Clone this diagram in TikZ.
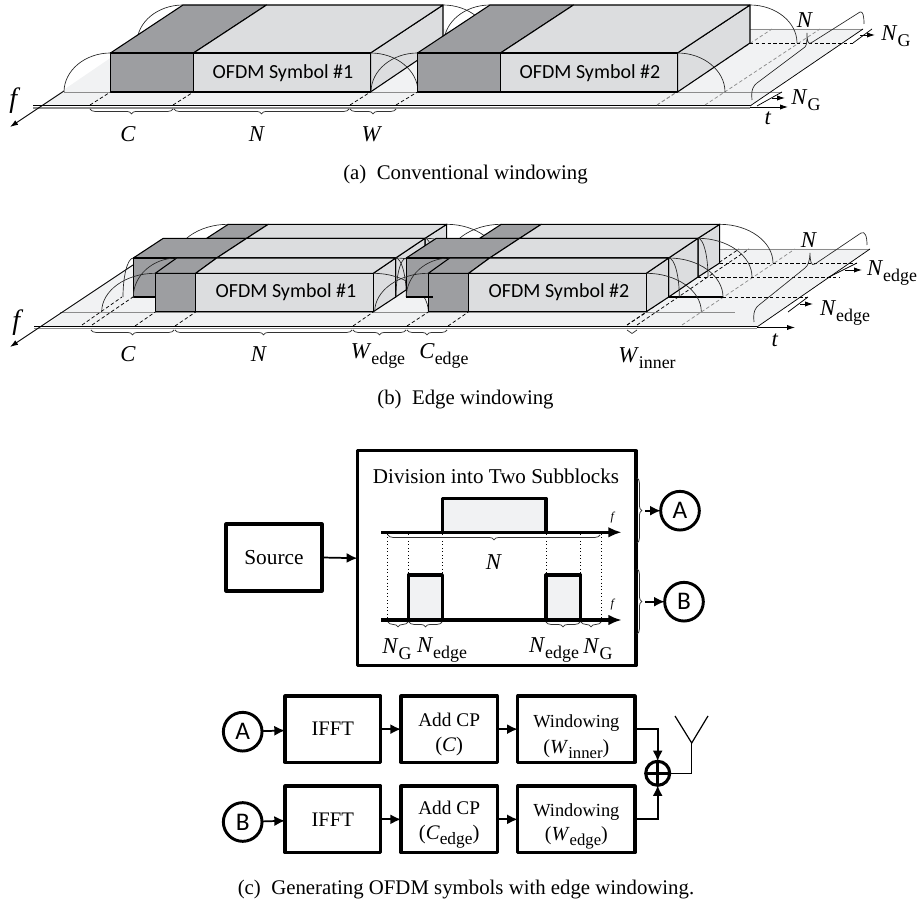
\documentclass[tikz,border=0pt]{standalone}
\usepackage{fontspec}
\setmainfont{Liberation Serif}
\newfontfamily\cali{Carlito}
\usetikzlibrary{arrows.meta,decorations.pathreplacing,calc}
\definecolor{plane}{HTML}{F1F2F3}
\definecolor{lightf}{HTML}{DCDDDF}
\definecolor{darkf}{HTML}{9D9EA1}
\definecolor{gline}{HTML}{8C8C8C}
\newcommand\fs[1]{\fontsize{#1}{#1}\selectfont}
\newcommand\mI[1]{{\fs{17}\textit{#1}}}
\newcommand\mS[2]{{\fs{17}\textit{#1}\raisebox{-0.28em}{\fs{13.4}#2}}}
\newcommand\qarc[4]{(#1,#2) .. controls ({#1+0.55*(#3-(#1))},#2) and (#3,{#4-0.55*(#4-(#2))}) .. (#3,#4)}
\newcommand\bx[6]{\pgfmathsetmacro\bw{(#4-#2)*0.75}\pgfmathsetmacro\bh{(#5-#3)*0.75}%
  \node[pbox,minimum width=\bw pt,minimum height=\bh pt] (#1) at ({(#2+#4)/2},{(#3+#5)/2}) {#6};}
\tikzset{
  x=0.75pt,y=-0.75pt,
  face/.style={draw=black,line width=0.8pt,line join=round},
  thinl/.style={draw=black,line width=0.55pt},
  arcl/.style={draw=black!85,line width=0.5pt},
  dsh/.style={draw=black,line width=0.55pt,dash pattern=on 2.6pt off 1.8pt},
  gdsh/.style={draw=gline,line width=0.55pt,dash pattern=on 2.6pt off 1.8pt},
  brc/.style={draw=black!80,line width=0.55pt,decorate,decoration={brace,amplitude=3.6pt}},
  brcm/.style={brc,decoration={brace,mirror,amplitude=3.6pt}},
  lab/.style={inner sep=0pt,outer sep=0pt},
  captxt/.style={inner sep=0pt,font=\fs{15.6}},
  symtxt/.style={inner sep=0pt,font=\cali\fs{15}},
  pbox/.style={draw=black,line width=2.3pt,fill=white,inner sep=0pt,outer sep=0pt,align=center,line join=round},
  cnode/.style={circle,draw=black,line width=2.2pt,fill=white,inner sep=0pt,minimum size=29pt,font=\cali\fs{19},outer sep=0pt},
  arr/.style={draw=black,line width=1.3pt,-{Latex[length=8pt,width=7.5pt]}},
  axisl/.style={draw=black,line width=0.7pt,-{Latex[length=6pt,width=4pt]}},
  spike/.style={draw=black,line width=2.4pt,-{Latex[length=10pt,width=8pt]}},
  pulse/.style={draw=black,line width=2.4pt,fill=plane,line join=round},
  dotl/.style={draw=black,line width=0.6pt,dotted}
}
\begin{document}
\begin{tikzpicture}
\useasboundingbox (0,0) rectangle (922,905);
% ---------- panel (a)
\fill[plane] (40,106) -- (153,29) -- (863,29) -- (750,106) -- cycle;
\draw[gline,line width=0.6pt] (64,92) -- (782,92);
\draw[gline,line width=0.6pt] (750,29) -- (863,29);
\draw[thinl] (750,106) -- (863,29);
\draw[gline,line width=1.2pt] (33,108) -- (750,108);
\draw[black,line width=0.7pt] (33,105.7) -- (750,105.7);
\draw[axisl] (64,91) -- (10,127);
\draw[axisl] (750,107) -- (788,107);
\foreach \xa/\xb in {90/110.5,173/193.5,350/370.5,396/417.5}
  \draw[dsh] (\xa,105) -- (\xb,92);
\draw[gdsh] (657,105) -- (677,92);
\draw[gdsh] (657,105) -- (772,29);
\draw[gdsh] (705,105) -- (820,29);
\draw[dsh] (750,43) -- (853,43);
\foreach \s/\c in {0/1,307/2}{
 \begin{scope}[shift={(\s,0)}]
  \draw[arcl] \qarc{183}{5}{137}{43};
  \draw[face,fill=lightf] (370.5,53) -- (443,5) -- (443,43) -- (370.5,92) -- cycle;
  \draw[face,fill=darkf] (110.5,53) -- (183,5) -- (266.5,5) -- (193.5,53) -- cycle;
  \draw[face,fill=lightf] (193.5,53) -- (266.5,5) -- (443,5) -- (370.5,53) -- cycle;
  \draw[face,fill=darkf] (110.5,53) rectangle (193.5,92);
  \draw[face,fill=lightf] (193.5,53) rectangle (370.5,92);
  \node[symtxt] (syma\c) at (283,73) {OFDM Symbol \#\c};
  \draw[arcl] \qarc{110.5}{53}{64}{92};
  \draw[arcl] \qarc{370.5}{53}{418}{92};
  \draw[arcl] \qarc{443}{5}{490}{43};
 \end{scope}
}
\draw[decorate,brcm] (90,109) -- (173,109);
\draw[decorate,brcm] (174,109) -- (349,109);
\draw[decorate,brcm] (350,109) -- (396,109);
\node[lab] (fa) at (15,101) {\fs{21}\textit{f}};
\node[lab] (ca) at (128,134) {\mI{C}};
\node[lab] (na) at (257,134) {\mI{N}};
\node[lab] (wa) at (372,134) {\mI{W}};
\node[lab] (ta) at (768,118) {\mI{t}};
\node[lab] (nb) at (805,20) {\mI{N}};
\node[lab] (ga) at (896,36) {\mS{N}{G}};
\node[lab] (gb) at (806,100) {\mS{N}{G}};
\draw[thinl] (853,43) -- (872,29);
\draw[axisl] (860,35) -- (875,35);
\draw[thinl] (757,106) -- (782,92);
\draw[axisl] (772,98) -- (785,98);
\draw[arcl] (752,100) .. controls (751,90) and (753,86) .. (757,83) -- (805,47) .. controls (807,45) and (807,40) .. (807,33) .. controls (807,40) and (808,45) .. (811,43) -- (860,12) .. controls (863,11) and (864,16) .. (864,24);
\node[captxt] (capa) at (465.5,175) {(a)\enspace Conventional windowing};
% ---------- panel (b)
\fill[plane] (43,327) -- (155,249) -- (870,249) -- (757,327) -- cycle;
\draw[gline,line width=0.6pt] (60,312) -- (735,312);
\draw[gline,line width=0.7pt] (720,249) -- (870,249);
\draw[thinl] (757,327) -- (870,249);
\draw[gline,line width=1.2pt] (34,328.5) -- (757,328.5);
\draw[black,line width=0.7pt] (34,326.3) -- (757,326.3);
\draw[axisl] (133,265) -- (10,347);
\draw[axisl] (757,327.5) -- (795,327.5);
\foreach \xa/\xb/\ya/\yb in {82/122/325/297,92/133/325/297,135/155.3/326/312,175/195.7/326/312,353/373.3/326/312,407/428.3/326/312,448/468.3/326/312,627/647/325/312}
  \draw[dsh] (\xa,\ya) -- (\xb,\yb);
\draw[dsh] (627,325) -- (739,249);
\draw[dsh] (637,325) -- (749,249);
\draw[gdsh] (682,325) -- (795,249);
\draw[dsh] (720,263) -- (857,263);
\draw[dsh] (698,277) -- (840,277);
\draw[dsh] (723,297) -- (808,297);
\draw[face] (668,297) -- (723,297);
\foreach \s/\c in {0/1,273/2}{
 \begin{scope}[shift={(\s,0)}]
  \draw[arcl] \qarc{228.3}{224.3}{174}{263};
  \draw[arcl] \qarc{446.7}{224.3}{500}{263};
  % back edge block
  \draw[face,fill=lightf] (425,238.3) -- (446.7,224.3) -- (446.7,263) -- (425,277) -- cycle;
  \draw[face,fill=darkf] (206.7,238.3) -- (228.3,224.3) -- (268.3,224.3) -- (246.7,238.3) -- cycle;
  \draw[face,fill=lightf] (246.7,238.3) -- (268.3,224.3) -- (446.7,224.3) -- (425,238.3) -- cycle;
  % inner block
  \draw[face,fill=lightf] (395.7,258) -- (425,238.3) -- (425,277) -- (395.7,297) -- cycle;
  \draw[face,fill=darkf] (133.3,258) -- (163.3,238.3) -- (246.7,238.3) -- (216.7,258) -- cycle;
  \draw[face,fill=lightf] (216.7,258) -- (246.7,238.3) -- (425,238.3) -- (395.7,258) -- cycle;
  \draw[face,fill=darkf] (133.3,258) rectangle (216.7,297);
  \draw[face,fill=lightf] (216.7,258) rectangle (395.7,297);
  % front edge block
  \draw[face,fill=lightf] (373.3,273.3) -- (395.7,258) -- (395.7,297) -- (373.3,311.7) -- cycle;
  \draw[face,fill=darkf] (155.3,273.3) -- (176.7,258) -- (216.7,258) -- (195.7,273.3) -- cycle;
  \draw[face,fill=lightf] (195.7,273.3) -- (216.7,258) -- (395.7,258) -- (373.3,273.3) -- cycle;
  \draw[face,fill=darkf] (155.3,273.3) rectangle (195.7,311.7);
  \draw[face,fill=lightf] (195.7,273.3) rectangle (373.3,311.7);
  \node[symtxt] (symb\c) at (286,292) {OFDM Symbol \#\c};
  % window arcs
  \draw[arcl] \qarc{155.3}{273.3}{101.7}{311.7};
  \draw[arcl] \qarc{133.3}{258}{123}{297};
  \draw[arcl] \qarc{176.7}{258}{133.3}{297};
  \draw[arcl] \qarc{373.3}{273.3}{428.3}{311.7};
  \draw[arcl] \qarc{395.7}{258}{406.3}{297};
  \draw[arcl] \qarc{395.7}{258}{450}{297};
  \draw[arcl] \qarc{425}{238.3}{435}{277};
  \draw[arcl] \qarc{425}{238.3}{479}{277};
 \end{scope}
}
\draw[face] (406.3,297) -- (433,297);
\draw[decorate,brcm] (91,330) -- (174,330);
\draw[decorate,brcm] (175,330) -- (352,330);
\draw[decorate,brcm] (353,330) -- (406,330);
\draw[decorate,brcm] (407,330) -- (447,330);
\draw[decorate,brcm,decoration={brace,mirror,amplitude=2.6pt}] (627,330) -- (637,330);
\node[lab] (fb) at (18,323) {\fs{21}\textit{f}};
\node[lab] (cb) at (128,354) {\mI{C}};
\node[lab] (nc) at (259,354) {\mI{N}};
\node[lab] (wb) at (378,356) {\mS{W}{edge}};
\node[lab] (cc) at (444,356) {\mS{C}{edge}};
\node[lab] (wc) at (647,358) {\mS{W}{inner}};
\node[lab] (tb) at (775,340) {\mI{t}};
\node[lab] (nd) at (809,240) {\mI{N}};
\node[lab] (ea) at (892,273) {\mS{N}{edge}};
\node[lab] (eb) at (845,313) {\mS{N}{edge}};
\draw[thinl] (827,278) -- (857,263);
\draw[axisl] (845,270) -- (862,270);
\draw[thinl] (788,312) -- (808,297);
\draw[axisl] (800,304) -- (813,304);
\draw[arcl] (754,322) .. controls (753,312) and (755,308) .. (759,305) -- (805,268) .. controls (808,266) and (810,260) .. (810,253) .. controls (810,260) and (811,267) .. (815,264) -- (861,233) .. controls (865,231) and (867,236) .. (867,245);
\node[captxt] (capb) at (465.5,400) {(b)\enspace Edge windowing};
% ---------- panel (c) upper
\bx{source}{226}{524}{322}{591}{\fs{16}Source}
\bx{div}{357.3}{450.7}{636}{665.7}{}
\node[lab,font=\fs{15.8}] (title) at (496,476) {Division into Two Subblocks};
\draw[arr] (source.east) -- (div.west);
\coordinate (tl) at (381,532.3); \coordinate (tr) at (621.7,532.3);
\coordinate (bl) at (381,620);   \coordinate (br) at (621.7,620);
\draw[pulse] (442.3,532.3) -- (442.3,498.3) -- (546,498.3) -- (546,532.3);
\draw[pulse] (408.3,620) -- (408.3,575) -- (442.3,575) -- (442.3,620);
\draw[pulse] (546,620) -- (546,575) -- (580.7,575) -- (580.7,620);
\draw[spike] (tl) -- (tr);
\draw[spike] (bl) -- (br);
\foreach \x in {387.7,408.3,442.3,546,580.7,601}
  \draw[dotl] (\x,534) -- (\x,618);
\node[lab] (fc) at (613,518) {\fs{9}\textit{f}};
\node[lab] (fd) at (613,605) {\fs{9}\textit{f}};
\draw[decorate,brcm] (388,535) -- (600,535);
\node[lab] (ne) at (494,562) {\mI{N}};
\draw[decorate,brcm] (388,622) -- (408,622);
\draw[decorate,brcm] (409,622) -- (442,622);
\draw[decorate,brcm] (546,622) -- (580,622);
\draw[decorate,brcm] (581,622) -- (601,622);
\node[lab] (gc) at (397,649) {\mS{N}{G}};
\node[lab] (ec) at (442,650) {\mS{N}{edge}};
\node[lab] (ed) at (554,650) {\mS{N}{edge}};
\node[lab] (gd) at (598,649) {\mS{N}{G}};
\node[cnode] (a1) at (680,510.7) {A};
\node[cnode] (b1) at (684,601.7) {B};
\draw[brc,line width=0.6pt] (637,478) -- (637,543);
\draw[brc,line width=0.6pt] (637,569) -- (637,634);
\coordinate (ta1) at (645,510.7); \coordinate (tb1) at (645,601.7);
\draw[arr] (ta1) -- (a1);
\draw[arr] (tb1) -- (b1);
% ---------- panel (c) lower
\node[cnode] (a2) at (242.7,731.7) {A};
\node[cnode] (b2) at (242.7,822) {B};
\bx{ifa}{285}{696}{380.7}{762.3}{\fs{15.5}IFFT}
\bx{cpa}{401}{696}{497.3}{762.3}{\fs{14.5}\rule{0pt}{18pt}Add CP\\[6.5pt]{\fs{15.5}(\textit{C})}}
\bx{wia}{517.7}{696}{635}{762.3}{\fs{13.8}\rule{0pt}{21pt}Windowing\\[5.3pt]{\fs{15}(\textit{W}\raisebox{-0.25em}{\fs{12.5}inner})}}
\bx{ifb}{285}{786}{380.7}{852.7}{\fs{15.5}IFFT}
\bx{cpb}{401}{786}{497.3}{852.7}{\fs{14.5}\rule{0pt}{18pt}Add CP\\[6.3pt]{\fs{15.5}(\textit{C}\raisebox{-0.25em}{\fs{13}edge})}}
\bx{wib}{517.7}{786}{635}{852.7}{\fs{13.8}\rule{0pt}{20pt}Windowing\\[3.5pt]{\fs{15}(\textit{W}\raisebox{-0.25em}{\fs{12.5}edge})}}
\draw[arr] (a2) -- (ifa);
\draw[arr] (ifa) -- (cpa);
\draw[arr] (cpa) -- (wia);
\draw[arr] (b2) -- (ifb);
\draw[arr] (ifb) -- (cpb);
\draw[arr] (cpb) -- (wib);
\node[circle,draw=black,line width=2.3pt,fill=white,minimum size=18pt,inner sep=0pt,outer sep=0pt] (sum) at (657.7,773.3) {};
\draw[black,line width=2pt] (sum.north) -- (sum.south);
\draw[black,line width=2pt] (sum.west) -- (sum.east);
\draw[arr] (wia.east) -| (sum.north);
\draw[arr] (wib.east) -| (sum.south);
\coordinate (ant) at (691.7,743);
\coordinate (antl) at (675,716);
\coordinate (antr) at (708,716);
\draw[black,line width=0.9pt] (sum.east) -| (ant);
\draw[black,line width=0.9pt] (antl) -- (ant) -- (antr);
\node[captxt] (capc) at (466,890) {(c)\enspace Generating OFDM symbols with edge windowing.};
\end{tikzpicture}
\end{document}
